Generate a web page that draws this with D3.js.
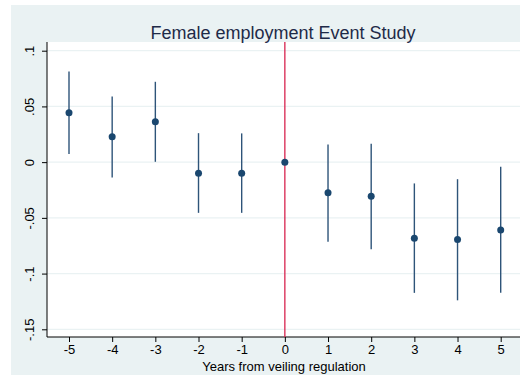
<!DOCTYPE html>
<html>
<head>
<meta charset="utf-8">
<script src="https://cdn.jsdelivr.net/npm/d3@7"></script>
<style>
  html, body { margin: 0; padding: 0; background: #ffffff; }
  svg { display: block; font-family: "Liberation Sans", Arial, sans-serif; }
</style>
</head>
<body>
<svg id="chart" width="520" height="386"></svg>
<script>
// ---- data ----
const years    = [-5, -4, -3, -2, -1, 0, 1, 2, 3, 4, 5];
const estimate = [0.0443, 0.0227, 0.0362, -0.0099, -0.0099, 0, -0.0275, -0.0305, -0.0682, -0.0694, -0.0608];
const ciLow    = [0.0072, -0.0137, 0.0003, -0.0455, -0.0455, 0, -0.0715, -0.0781, -0.1173, -0.1240, -0.1173];
const ciHigh   = [0.0814, 0.0590, 0.0721, 0.0260, 0.0258, 0, 0.0159, 0.0164, -0.0191, -0.0153, -0.0042];
const yTicks   = [-0.15, -0.1, -0.05, 0, 0.05, 0.1];
const yTickLabels = ["-.15", "-.1", "-.05", "0", ".05", ".1"];
const xTicks   = [-5, -4, -3, -2, -1, 0, 1, 2, 3, 4, 5];
const xTickLabels = ["-5", "-4", "-3", "-2", "-1", "0", "1", "2", "3", "4", "5"];
const titleText = "Female employment Event Study";
const xTitle = "Years from veiling regulation";
const eventYear = 0;

// ---- layout ----
const svg = d3.select("#chart");
const bg = "#eaf2f3";
const navy = "#1a476f";

svg.append("rect").attr("x", 11).attr("y", 5).attr("width", 509).attr("height", 370).attr("fill", bg);

const plot = { left: 47, right: 520, top: 42, bottom: 337 };

const x = d3.scaleLinear().domain([-5, 5]).range([69, 500.7]);
const y = d3.scaleLinear().domain([-0.15, 0.1]).range([329.3, 50.7]);

svg.append("rect")
  .attr("x", plot.left).attr("y", plot.top)
  .attr("width", plot.right - plot.left).attr("height", plot.bottom - plot.top)
  .attr("fill", "#ffffff");

// gridlines
svg.append("g").selectAll("line").data(yTicks).join("line")
  .attr("x1", plot.left).attr("x2", plot.right)
  .attr("y1", d => y(d)).attr("y2", d => y(d))
  .attr("stroke", bg).attr("stroke-width", 1.2);

// y axis
const yAxis = d3.axisLeft(y).tickValues(yTicks)
  .tickFormat((d, i) => yTickLabels[i]).tickSize(5).tickSizeOuter(0);
const gy = svg.append("g").attr("transform", `translate(${plot.left},0)`).call(yAxis);
gy.select(".domain").attr("d", `M0,${plot.top}V${plot.bottom}`).attr("stroke", "#000").attr("stroke-width", 1);
gy.selectAll(".tick line").attr("stroke", "#000");
gy.selectAll(".tick text")
  .attr("font-size", 13).attr("fill", "#000")
  .attr("text-anchor", "middle")
  .attr("x", 0).attr("dy", 0)
  .attr("transform", "translate(-13,0) rotate(-90)");

// x axis
const xAxis = d3.axisBottom(x).tickValues(xTicks)
  .tickFormat((d, i) => xTickLabels[i]).tickSize(5).tickSizeOuter(0);
const gx = svg.append("g").attr("transform", `translate(0,${plot.bottom})`).call(xAxis);
gx.select(".domain").attr("d", `M${plot.left},0H${plot.right}`).attr("stroke", "#000").attr("stroke-width", 1);
gx.selectAll(".tick line").attr("stroke", "#000");
gx.selectAll(".tick text").attr("font-size", 13).attr("fill", "#000").attr("y", 8);

// event line
svg.append("line")
  .attr("x1", x(eventYear)).attr("x2", x(eventYear))
  .attr("y1", plot.top).attr("y2", plot.bottom)
  .attr("stroke", "#d8244f").attr("stroke-width", 1.3);

// CI spikes
const rows = years.map((yr, i) => ({ yr, est: estimate[i], lo: ciLow[i], hi: ciHigh[i] }));
svg.append("g").selectAll("line").data(rows.filter(d => d.lo !== d.hi)).join("line")
  .attr("x1", d => x(d.yr)).attr("x2", d => x(d.yr))
  .attr("y1", d => y(d.lo)).attr("y2", d => y(d.hi))
  .attr("stroke", "#2e5479").attr("stroke-width", 1.4);

// points
svg.append("g").selectAll("circle").data(rows).join("circle")
  .attr("cx", d => x(d.yr)).attr("cy", d => y(d.est))
  .attr("r", 3.5).attr("fill", navy);

// title
svg.append("text").attr("x", 283).attr("y", 39)
  .attr("text-anchor", "middle").attr("font-size", 18).attr("fill", "#1e2a48")
  .text(titleText);

// x title
svg.append("text").attr("x", 284).attr("y", 370.5)
  .attr("text-anchor", "middle").attr("font-size", 13).attr("fill", "#000")
  .text(xTitle);
</script>
</body>
</html>
